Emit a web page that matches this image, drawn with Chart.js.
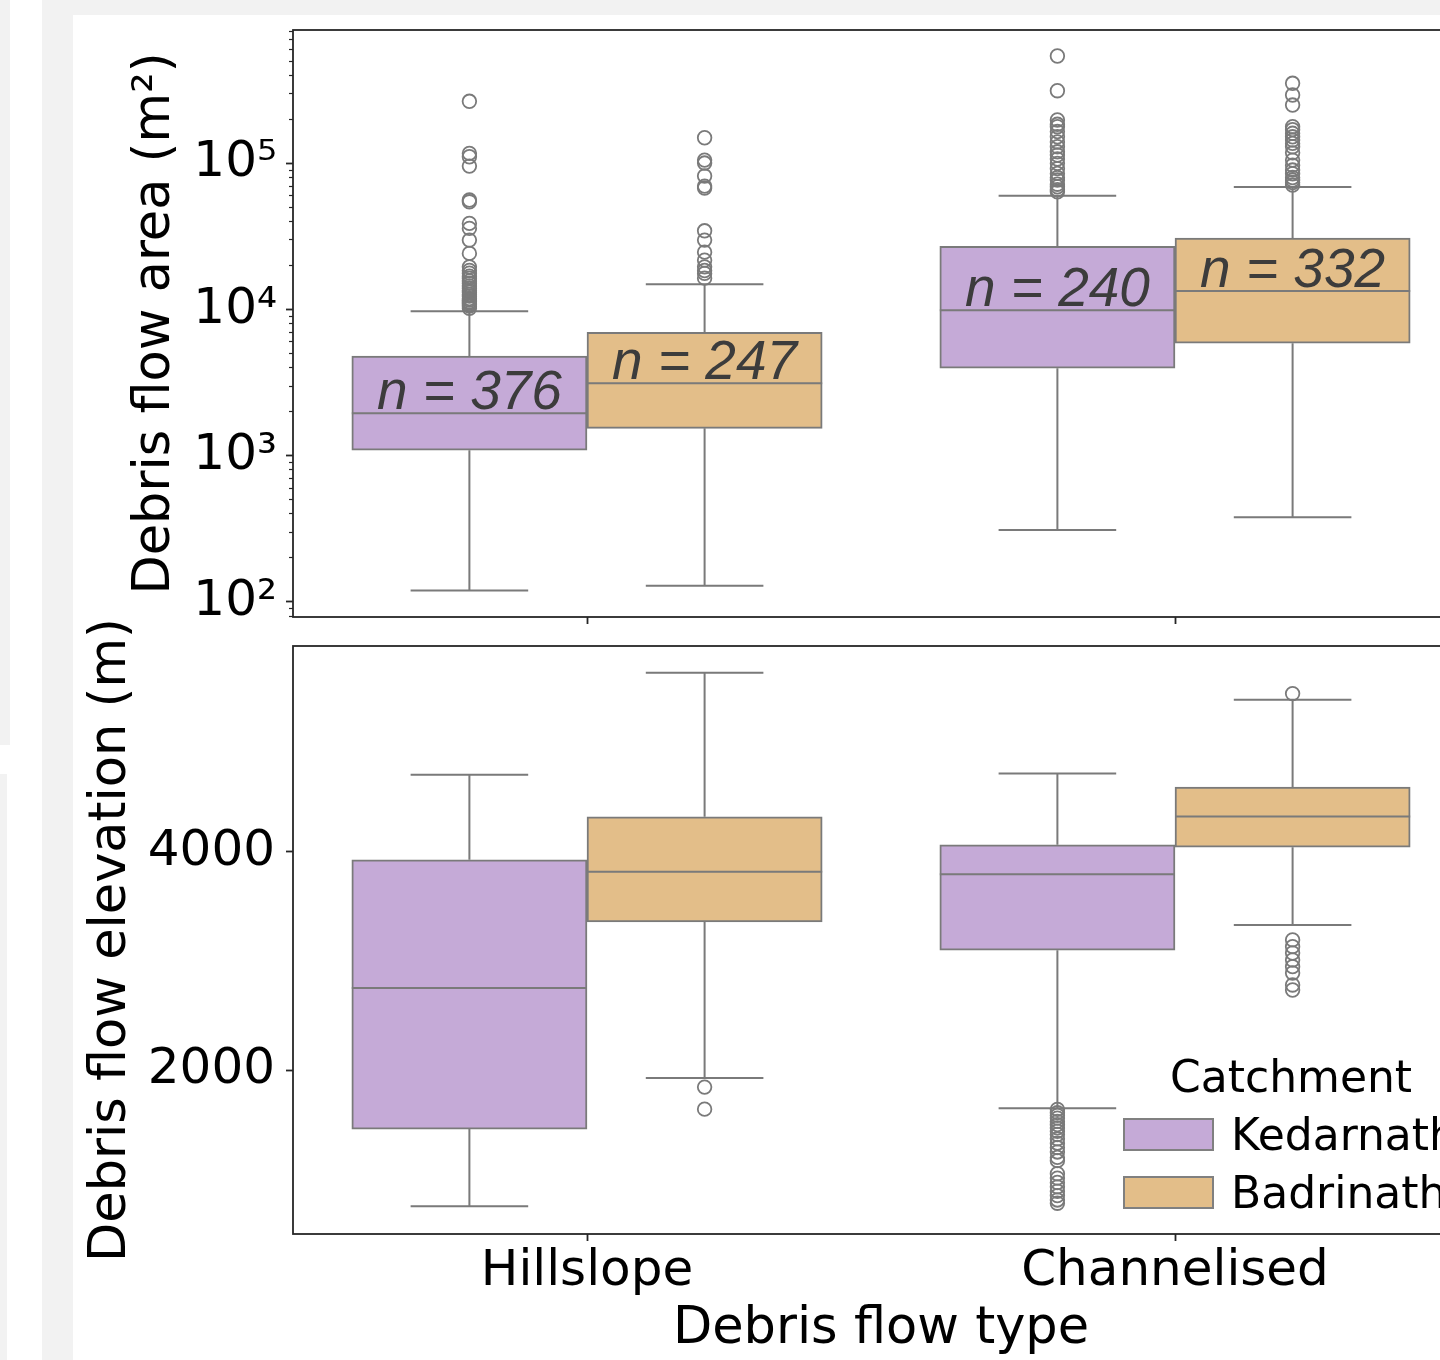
<!DOCTYPE html>
<html>
<head>
<meta charset="utf-8">
<title>Debris flow area and elevation by type</title>
<script src="https://cdn.jsdelivr.net/npm/chart.js@4.4.1/dist/chart.umd.min.js"></script>
<style>
  html, body { margin: 0; padding: 0; }
  body {
    width: 1440px; height: 1360px; position: relative; overflow: hidden;
    background: #f2f2f2; font-family: "DejaVu Sans", sans-serif;
  }
  .strip { position: absolute; background: #fff; }
  #figure {
    position: absolute; left: 73px; top: 15px; width: 1367px; height: 1345px;
    background: #fff; overflow: hidden;
  }
  #areaChart { position: absolute; left: 0; top: 0; }
  #elevChart { position: absolute; left: 0; top: 585px; }
  .legend-text {
    position: absolute; font-family: "DejaVu Sans", sans-serif; font-size: 44px;
    line-height: 44px; color: #000; white-space: nowrap;
  }
  .legend-patch { position: absolute; box-sizing: border-box; border: 2px solid #808080; }
</style>
</head>
<body>
<div class="strip" style="left:10px;top:0;width:32px;height:745px"></div>
<div class="strip" style="left:0;top:745px;width:42px;height:29px"></div>
<div class="strip" style="left:7px;top:774px;width:35px;height:586px"></div>
<div id="figure">
  <canvas id="areaChart" width="1440" height="625"></canvas>
  <canvas id="elevChart" width="1440" height="760"></canvas>
</div>
<script>
// categories and hue groups
const categories = ["Hillslope", "Channelised"];
const catchments = ["Kedarnath", "Badrinath"];

// sample sizes shown on the top panel
const kedarnathCounts = [376, 240];
const badrinathCounts = [247, 332];

// box stats per category: [lower whisker, Q1, median, Q3, upper whisker]
const kedarnathArea = [[120, 1090, 1950, 4800, 9750], [310, 3970, 9900, 27100, 60000]];
const badrinathArea = [[129, 1540, 3130, 7000, 14900], [380, 5890, 13400, 30800, 68800]];
const kedarnathElev = [[752, 1459, 2752, 3927, 4706], [1651, 3098, 3795, 4064, 4718]];
const badrinathElev = [[1927, 3358, 3817, 4321, 5642], [3330, 4043, 4324, 4594, 5394]];

// outliers per category
const kedarnathAreaOutliers = [
  [265700, 117100, 110950, 95800, 56100, 54600, 38850, 35910, 29850, 24210, 19600, 18500, 17740,
   16900, 16400, 15700, 15150, 14500, 14010, 13500, 13150, 12700, 12350, 11900, 11600, 11300,
   11070, 10800, 10550, 10200],
  [542600, 314000, 197900, 185000, 178100, 165000, 152100, 140000, 129900, 120000, 114000,
   107000, 100000, 92000, 85400, 80000, 76900, 72000, 69200, 66000, 63900]
];
const badrinathAreaOutliers = [
  [149700, 105300, 100500, 81900, 69900, 67800, 34570, 29850, 24700, 21780, 19600, 18500, 17670,
   16400],
  [352900, 293500, 250600, 178100, 170000, 160500, 152000, 144400, 137000, 129900, 118000,
   105300, 97000, 90000, 85000, 80000, 76900, 74000, 71000]
];
const kedarnathElevOutliers = [
  [],
  [1640, 1610, 1585, 1560, 1530, 1500, 1470, 1440, 1410, 1370, 1330, 1290, 1250, 1200, 1170,
   1050, 1010, 970, 930, 890, 850, 810, 780]
];
const badrinathElevOutliers = [
  [1844, 1642],
  [5450, 3193, 3131, 3073, 3009, 2948, 2890, 2780, 2734]
];

// axes
const areaRange = [78.9, 817000];
const areaTicks = [100, 1000, 10000, 100000];
const areaTickLabels = ["10²", "10³", "10⁴", "10⁵"];
const elevRange = [498, 5886];
const elevTicks = [2000, 4000];
const elevTickLabels = ["2000", "4000"];

const colors = ["#c5aad7", "#e3be89"];
const lineColor = "#7a7a7a";
const axisColor = "#262626";
const hueOffset = [-0.2, 0.2];
const boxHalf = 0.2;
const capHalf = 0.1;
const font50 = { family: "DejaVu Sans", size: 50, lineHeight: 1 };
const titleFont = { family: "DejaVu Sans", size: 51, lineHeight: 1 };

function boxDatasets(stats, outliers, h) {
  const pos = i => i + hueOffset[h];
  const segs = [];
  const seg = (x1, y1, x2, y2) => segs.push({ x: x1, y: y1 }, { x: x2, y: y2 }, { x: x2, y: null });
  stats.forEach((s, i) => {
    const c = pos(i);
    seg(c - boxHalf, s[2], c + boxHalf, s[2]);
    seg(c, s[3], c, s[4]);
    seg(c - capHalf, s[4], c + capHalf, s[4]);
    seg(c, s[1], c, s[0]);
    seg(c - capHalf, s[0], c + capHalf, s[0]);
  });
  return [
    {
      type: "bar",
      label: catchments[h],
      data: stats.map((s, i) => ({ x: pos(i), y: [s[1], s[3]] })),
      backgroundColor: colors[h],
      borderColor: lineColor,
      borderWidth: 2,
      borderSkipped: false,
      grouped: false,
      categoryPercentage: 1,
      barPercentage: 1,
      order: 3
    },
    {
      type: "line",
      data: segs,
      borderColor: lineColor,
      borderWidth: 2,
      pointRadius: 0,
      spanGaps: false,
      tension: 0,
      order: 2
    },
    {
      type: "scatter",
      data: outliers.flatMap((arr, i) => arr.map(v => ({ x: pos(i), y: v }))),
      pointRadius: 6.8,
      pointBorderWidth: 1.8,
      pointBorderColor: lineColor,
      pointBackgroundColor: "rgba(0,0,0,0)",
      order: 1
    }
  ];
}

const framePlugin = {
  id: "frame",
  afterDraw(chart) {
    const { ctx, chartArea: a } = chart;
    ctx.save();
    ctx.strokeStyle = axisColor;
    ctx.lineWidth = 1.8;
    ctx.strokeRect(a.left, a.top, a.right - a.left, a.bottom - a.top);
    ctx.restore();
  }
};

const countLabels = {
  id: "countLabels",
  afterDatasetsDraw(chart) {
    const { ctx, scales: { x, y } } = chart;
    const counts = [kedarnathCounts, badrinathCounts];
    const stats = [kedarnathArea, badrinathArea];
    ctx.save();
    ctx.font = 'italic 55px "Liberation Sans", Arial, sans-serif';
    ctx.fillStyle = "#3c3c3c";
    ctx.textAlign = "center";
    ctx.textBaseline = "alphabetic";
    catchments.forEach((name, h) => {
      categories.forEach((cat, i) => {
        const px = x.getPixelForValue(i + hueOffset[h]);
        const py = y.getPixelForValue(stats[h][i][2]) - 4;
        ctx.fillText("n = " + counts[h][i], px, py);
      });
    });
    ctx.restore();
  }
};

// fixed scale size, and no extra margin for labels that overhang the plot
function fixSize(w, h) {
  return s => {
    if (w !== null) s.width = w;
    if (h !== null) s.height = h;
    s.paddingTop = 0; s.paddingBottom = 0; s.paddingLeft = 0; s.paddingRight = 0;
  };
}

const xBase = {
  type: "linear",
  min: -0.5,
  max: 1.5,
  offset: false,
  afterBuildTicks: s => { s.ticks = categories.map((c, i) => ({ value: i })); },
  grid: { offset: false, drawOnChartArea: false, tickLength: 7, tickColor: axisColor, tickWidth: 1.8 },
  border: { display: false }
};

function minorLogTicks(lo, hi) {
  const out = [];
  for (let p = Math.floor(Math.log10(lo)); p <= Math.ceil(Math.log10(hi)); p++) {
    for (let m = 2; m <= 9; m++) {
      const v = m * Math.pow(10, p);
      if (v >= lo && v <= hi) out.push({ value: v });
    }
  }
  return out;
}

new Chart(document.getElementById("areaChart"), {
  type: "bar",
  data: {
    datasets: [
      ...boxDatasets(kedarnathArea, kedarnathAreaOutliers, 0),
      ...boxDatasets(badrinathArea, badrinathAreaOutliers, 1)
    ]
  },
  options: {
    responsive: false,
    devicePixelRatio: 1,
    animation: false,
    layout: { padding: { left: 57, top: 15, right: 44, bottom: 0 } },
    plugins: { legend: { display: false }, tooltip: { enabled: false } },
    scales: {
      x: Object.assign({}, xBase, {
        ticks: { display: false },
        afterFit: fixSize(null, 23)
      }),
      y: {
        type: "logarithmic",
        min: areaRange[0],
        max: areaRange[1],
        afterBuildTicks: s => { s.ticks = areaTicks.map(v => ({ value: v })); },
        ticks: {
          font: font50,
          color: "#000",
          padding: 9,
          callback: v => areaTickLabels[areaTicks.indexOf(v)]
        },
        grid: { drawOnChartArea: false, tickLength: 7, tickColor: axisColor, tickWidth: 1.8 },
        border: { display: false },
        title: { display: true, text: "Debris flow area (m²)", font: titleFont, color: "#000", padding: 0 },
        afterFit: fixSize(163, null)
      },
      yMinor: {
        type: "logarithmic",
        position: "left",
        weight: -1,
        min: areaRange[0],
        max: areaRange[1],
        afterBuildTicks: s => { s.ticks = minorLogTicks(areaRange[0], areaRange[1]); },
        ticks: { display: false },
        grid: { drawOnChartArea: false, tickLength: 4, tickColor: axisColor, tickWidth: 1.2 },
        border: { display: false },
        afterFit: fixSize(0, null)
      }
    }
  },
  plugins: [framePlugin, countLabels]
});

new Chart(document.getElementById("elevChart"), {
  type: "bar",
  data: {
    datasets: [
      ...boxDatasets(kedarnathElev, kedarnathElevOutliers, 0),
      ...boxDatasets(badrinathElev, badrinathElevOutliers, 1)
    ]
  },
  options: {
    responsive: false,
    devicePixelRatio: 1,
    animation: false,
    layout: { padding: { left: 13, top: 46, right: 44, bottom: 0 } },
    plugins: { legend: { display: false }, tooltip: { enabled: false } },
    scales: {
      x: Object.assign({}, xBase, {
        ticks: { font: font50, color: "#000", padding: 6, callback: v => categories[v] },
        title: { display: true, text: "Debris flow type", font: titleFont, color: "#000", padding: { top: 0, bottom: 5 } },
        afterFit: fixSize(null, 126)
      }),
      y: {
        type: "linear",
        min: elevRange[0],
        max: elevRange[1],
        afterBuildTicks: s => { s.ticks = elevTicks.map(v => ({ value: v })); },
        ticks: {
          font: font50,
          color: "#000",
          padding: 11,
          callback: v => elevTickLabels[elevTicks.indexOf(v)]
        },
        grid: { drawOnChartArea: false, tickLength: 7, tickColor: axisColor, tickWidth: 1.8 },
        border: { display: false },
        title: { display: true, text: "Debris flow elevation (m)", font: titleFont, color: "#000", padding: 0 },
        afterFit: fixSize(207, null)
      }
    }
  },
  plugins: [framePlugin]
});

// legend (inside the lower panel, lower right)
const fig = document.getElementById("figure");
function addEl(cls, style, text) {
  const el = document.createElement("div");
  el.className = cls;
  Object.assign(el.style, style);
  if (text) el.textContent = text;
  fig.appendChild(el);
}
addEl("legend-text", { left: "1097px", top: "1040px" }, "Catchment");
catchments.forEach((name, h) => {
  const top = 1103 + h * 58;
  addEl("legend-patch", { left: "1050px", top: top + "px", width: "91px", height: "33px", background: colors[h] });
  addEl("legend-text", { left: "1158px", top: (top - 5) + "px" }, name);
});
</script>
</body>
</html>
